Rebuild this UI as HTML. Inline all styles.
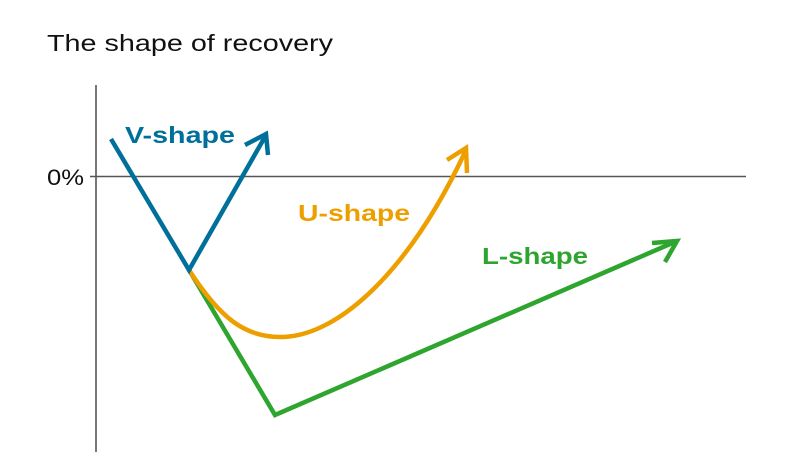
<!DOCTYPE html>
<html><head><style>html,body{margin:0;padding:0;background:#fff}</style></head>
<body>
<svg width="792" height="463" viewBox="0 0 792 463" xmlns="http://www.w3.org/2000/svg" font-family="Liberation Sans, sans-serif">
<text x="47" y="51" font-size="23" fill="#111" textLength="286" lengthAdjust="spacingAndGlyphs">The shape of recovery</text>
<line x1="96" y1="85" x2="96" y2="452" stroke="#777" stroke-width="2"/>
<line x1="90" y1="176.5" x2="746" y2="176.5" stroke="#555" stroke-width="1.5"/>
<text x="47" y="185" font-size="22" fill="#111" textLength="37" lengthAdjust="spacingAndGlyphs">0%</text>
<g fill="none" stroke-width="4.5" stroke-linecap="butt" stroke-linejoin="miter">
<polyline points="189,270 275,415 677,241" stroke="#2ea52e"/>
<polyline points="652,243 677,241 665,262" stroke="#2ea52e"/>
<path d="M189,270 C220,318 245,338 283,337 C340,335 410,270 466,150" stroke="#ee9f00"/>
<polyline points="447,160 466,148 467,173" stroke="#ee9f00"/>
<polyline points="111,139 189,270 266,135" stroke="#00709b"/>
<polyline points="245,145 266,134 268,155" stroke="#00709b"/>
</g>
<text x="125" y="143" font-size="23" font-weight="bold" fill="#00709b" textLength="110" lengthAdjust="spacingAndGlyphs">V-shape</text>
<text x="298" y="221" font-size="23" font-weight="bold" fill="#ee9f00" textLength="112" lengthAdjust="spacingAndGlyphs">U-shape</text>
<text x="482" y="264" font-size="23" font-weight="bold" fill="#2ea52e" textLength="106" lengthAdjust="spacingAndGlyphs">L-shape</text>
</svg>
</body></html>
